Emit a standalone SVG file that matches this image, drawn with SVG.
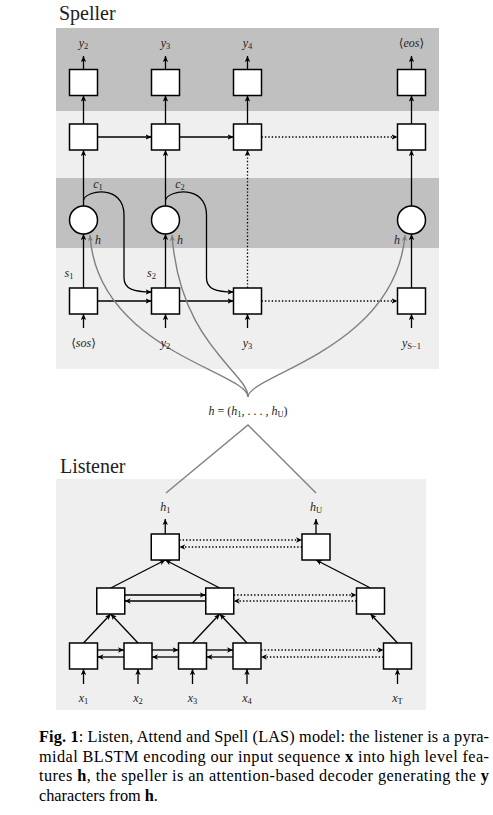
<svg xmlns="http://www.w3.org/2000/svg" width="493" height="815" viewBox="0 0 493 815">
<style>
.box{fill:#fff;stroke:#000;stroke-width:1.5}
.ln{fill:none;stroke:#000;stroke-width:1.3}
.dot{fill:none;stroke:#000;stroke-width:1.3;stroke-dasharray:1.4 2}
.gr{fill:none;stroke:#808080;stroke-width:1.4}
.m{font-family:"Liberation Serif","DejaVu Serif",serif;font-style:italic;font-size:12px;fill:#222;text-anchor:middle}
.m .s{font-size:8.5px;font-style:normal}
.m .up{font-style:normal}
.title{font-family:"Liberation Serif","DejaVu Serif",serif;font-size:20px;fill:#222}
.cap{font-family:"Liberation Serif","DejaVu Serif",serif;font-size:16.3px;fill:#000}
.b{font-weight:bold}
</style>
<defs>
<marker id="a" markerWidth="7" markerHeight="6" refX="6" refY="3" orient="auto" markerUnits="userSpaceOnUse"><path d="M0,0.3 L6,3 L0,5.7 L1.6,3z" fill="#000"/></marker>
<marker id="g" markerWidth="7" markerHeight="6" refX="6" refY="3" orient="auto" markerUnits="userSpaceOnUse"><path d="M0,0.3 L6,3 L0,5.7 L1.6,3z" fill="#808080"/></marker>
</defs>

<!-- Speller -->
<text class="title" x="59" y="20">Speller</text>
<g id="speller-bands">
<rect x="56" y="28" width="383" height="83" fill="#c0c0c0"/>
<rect x="56" y="111" width="383" height="67" fill="#efefef"/>
<rect x="56" y="178" width="383" height="70" fill="#c0c0c0"/>
<rect x="56" y="248" width="383" height="121" fill="#efefef"/>
</g>

<!-- Listener band -->
<text class="title" x="60" y="473">Listener</text>
<rect id="listener-band" x="56" y="479" width="370" height="231" fill="#efefef"/>

<g id="connectors">
<!-- speller verticals -->
<path class="ln" marker-end="url(#a)" d="M83.5,69.5V56"/>
<path class="ln" marker-end="url(#a)" d="M165.5,69.5V56"/>
<path class="ln" marker-end="url(#a)" d="M247.5,69.5V56"/>
<path class="ln" marker-end="url(#a)" d="M411.5,69.5V56"/>
<path class="ln" marker-end="url(#a)" d="M83.5,124V95.5"/>
<path class="ln" marker-end="url(#a)" d="M165.5,124V95.5"/>
<path class="ln" marker-end="url(#a)" d="M247.5,124V95.5"/>
<path class="ln" marker-end="url(#a)" d="M411.5,124V95.5"/>
<path class="ln" marker-end="url(#a)" d="M83.5,206V150"/>
<path class="ln" marker-end="url(#a)" d="M165.5,206V150"/>
<path class="ln" marker-end="url(#a)" d="M411.5,206V150"/>
<path class="dot" marker-end="url(#a)" d="M247.5,288V150"/>
<path class="ln" marker-end="url(#a)" d="M83.5,288V234"/>
<path class="ln" marker-end="url(#a)" d="M165.5,288V234"/>
<path class="ln" marker-end="url(#a)" d="M411.5,288V234"/>
<path class="ln" marker-end="url(#a)" d="M83.5,328V314"/>
<path class="ln" marker-end="url(#a)" d="M165.5,328V314"/>
<path class="ln" marker-end="url(#a)" d="M247.5,328V314"/>
<path class="ln" marker-end="url(#a)" d="M411.5,328V314"/>
<!-- speller horizontals -->
<path class="ln" marker-end="url(#a)" d="M97.5,137H151.5"/>
<path class="ln" marker-end="url(#a)" d="M179.5,137H233.5"/>
<path class="dot" marker-end="url(#a)" d="M261.5,137H397.5"/>
<path class="ln" marker-end="url(#a)" d="M97.5,301H151.5"/>
<path class="ln" marker-end="url(#a)" d="M179.5,301H233.5"/>
<path class="dot" marker-end="url(#a)" d="M261.5,301H397.5"/>
<!-- context curves -->
<path class="ln" marker-end="url(#a)" d="M83.5,200C86,190 124,184 124,215L124,278C124,289 134,292 151.5,292"/>
<path class="ln" marker-end="url(#a)" d="M165.5,200C168,190 206.5,184 206.5,215L206.5,278C206.5,289 216,292 233.5,292"/>
<!-- attention curves -->
<path class="gr" marker-end="url(#g)" d="M248,397C248,372 97,350 90,235"/>
<path class="gr" marker-end="url(#g)" d="M248,397C248,372 180,345 172,235"/>
<path class="gr" marker-end="url(#g)" d="M248,397C248,375 395,350 405,235"/>
<path class="gr" d="M166,493L248,425L316,493"/>

<!-- listener -->
<path class="ln" marker-end="url(#a)" d="M165.25,534V519"/>
<path class="ln" marker-end="url(#a)" d="M316,534V519"/>
<path class="dot" marker-end="url(#a)" d="M179.25,540H302"/>
<path class="dot" marker-end="url(#a)" d="M302,547H179.25"/>
<path class="ln" marker-end="url(#a)" d="M110.75,588L165.25,560"/>
<path class="ln" marker-end="url(#a)" d="M219.75,588L165.25,560"/>
<path class="ln" marker-end="url(#a)" d="M370.5,588L316,560"/>
<path class="ln" marker-end="url(#a)" d="M124.75,595H205.75"/>
<path class="ln" marker-end="url(#a)" d="M205.75,601H124.75"/>
<path class="dot" marker-end="url(#a)" d="M233.75,595H356.5"/>
<path class="dot" marker-end="url(#a)" d="M356.5,601H233.75"/>
<path class="ln" marker-end="url(#a)" d="M83.5,643L110.75,614"/>
<path class="ln" marker-end="url(#a)" d="M138,643L110.75,614"/>
<path class="ln" marker-end="url(#a)" d="M192.5,643L219.75,614"/>
<path class="ln" marker-end="url(#a)" d="M247,643L219.75,614"/>
<path class="ln" marker-end="url(#a)" d="M397.5,643L370.5,614"/>
<path class="ln" marker-end="url(#a)" d="M97.5,650H124"/>
<path class="ln" marker-end="url(#a)" d="M124,657H97.5"/>
<path class="ln" marker-end="url(#a)" d="M152,650H178.5"/>
<path class="ln" marker-end="url(#a)" d="M178.5,657H152"/>
<path class="ln" marker-end="url(#a)" d="M206.5,650H233"/>
<path class="ln" marker-end="url(#a)" d="M233,657H206.5"/>
<path class="dot" marker-end="url(#a)" d="M261,650H383.5"/>
<path class="dot" marker-end="url(#a)" d="M383.5,657H261"/>
<path class="ln" marker-end="url(#a)" d="M83.5,684V669"/>
<path class="ln" marker-end="url(#a)" d="M138,684V669"/>
<path class="ln" marker-end="url(#a)" d="M192.5,684V669"/>
<path class="ln" marker-end="url(#a)" d="M247,684V669"/>
<path class="ln" marker-end="url(#a)" d="M397.5,684V669"/>
</g>

<!-- speller nodes -->
<g id="sp-out1"><rect class="box" x="69.5" y="69.5" width="28" height="26"/></g>
<g id="sp-out2"><rect class="box" x="151.5" y="69.5" width="28" height="26"/></g>
<g id="sp-out3"><rect class="box" x="233.5" y="69.5" width="28" height="26"/></g>
<g id="sp-out4"><rect class="box" x="397.5" y="69.5" width="28" height="26"/></g>
<g id="sp-mid1"><rect class="box" x="69.5" y="124" width="28" height="26"/></g>
<g id="sp-mid2"><rect class="box" x="151.5" y="124" width="28" height="26"/></g>
<g id="sp-mid3"><rect class="box" x="233.5" y="124" width="28" height="26"/></g>
<g id="sp-mid4"><rect class="box" x="397.5" y="124" width="28" height="26"/></g>
<g id="att1"><circle class="box" cx="83.5" cy="220" r="14"/></g>
<g id="att2"><circle class="box" cx="165.5" cy="220" r="14"/></g>
<g id="att4"><circle class="box" cx="411.5" cy="220" r="14"/></g>
<g id="sp-in1"><rect class="box" x="69.5" y="288" width="28" height="26"/></g>
<g id="sp-in2"><rect class="box" x="151.5" y="288" width="28" height="26"/></g>
<g id="sp-in3"><rect class="box" x="233.5" y="288" width="28" height="26"/></g>
<g id="sp-in4"><rect class="box" x="397.5" y="288" width="28" height="26"/></g>

<!-- speller labels -->
<g id="sp-labels">
<text class="m" x="83.5" y="47">y<tspan class="s" dy="2">2</tspan></text>
<text class="m" x="165.5" y="47">y<tspan class="s" dy="2">3</tspan></text>
<text class="m" x="247.5" y="47">y<tspan class="s" dy="2">4</tspan></text>
<text class="m" x="411.5" y="47"><tspan class="up">⟨</tspan>eos<tspan class="up">⟩</tspan></text>
<text class="m" x="98" y="188">c<tspan class="s" dy="2">1</tspan></text>
<text class="m" x="180" y="188">c<tspan class="s" dy="2">2</tspan></text>
<text class="m" x="98" y="244">h</text>
<text class="m" x="180" y="244">h</text>
<text class="m" x="397" y="244">h</text>
<text class="m" x="69" y="277">s<tspan class="s" dy="2">1</tspan></text>
<text class="m" x="151.5" y="277">s<tspan class="s" dy="2">2</tspan></text>
<text class="m" x="83.5" y="347"><tspan class="up">⟨</tspan>sos<tspan class="up">⟩</tspan></text>
<text class="m" x="165.5" y="347">y<tspan class="s" dy="2">2</tspan></text>
<text class="m" x="247.5" y="347">y<tspan class="s" dy="2">3</tspan></text>
<text class="m" x="411.5" y="347">y<tspan class="s" dy="2">S−1</tspan></text>
<text class="m" x="248" y="415">h <tspan class="up">= (</tspan>h<tspan class="s" dy="2">1</tspan><tspan dy="-2" class="up">, . . . , </tspan>h<tspan class="s" dy="2">U</tspan><tspan dy="-2" class="up">)</tspan></text>
</g>

<!-- listener nodes -->
<g id="ls-top1"><rect class="box" x="151.25" y="534" width="28" height="26"/></g>
<g id="ls-top2"><rect class="box" x="302" y="534" width="28" height="26"/></g>
<g id="ls-mid1"><rect class="box" x="96.75" y="588" width="28" height="26"/></g>
<g id="ls-mid2"><rect class="box" x="205.75" y="588" width="28" height="26"/></g>
<g id="ls-mid3"><rect class="box" x="356.5" y="588" width="28" height="26"/></g>
<g id="ls-bot1"><rect class="box" x="69.5" y="643" width="28" height="26"/></g>
<g id="ls-bot2"><rect class="box" x="124" y="643" width="28" height="26"/></g>
<g id="ls-bot3"><rect class="box" x="178.5" y="643" width="28" height="26"/></g>
<g id="ls-bot4"><rect class="box" x="233" y="643" width="28" height="26"/></g>
<g id="ls-bot5"><rect class="box" x="383.5" y="643" width="28" height="26"/></g>

<g id="ls-labels">
<text class="m" x="165.25" y="511">h<tspan class="s" dy="2">1</tspan></text>
<text class="m" x="316" y="511">h<tspan class="s" dy="2">U</tspan></text>
<text class="m" x="83.5" y="702">x<tspan class="s" dy="2">1</tspan></text>
<text class="m" x="138" y="702">x<tspan class="s" dy="2">2</tspan></text>
<text class="m" x="192.5" y="702">x<tspan class="s" dy="2">3</tspan></text>
<text class="m" x="247" y="702">x<tspan class="s" dy="2">4</tspan></text>
<text class="m" x="397.5" y="702">x<tspan class="s" dy="2">T</tspan></text>
</g>

<!-- caption -->
<g id="caption">
<text class="cap" x="39" y="742" textLength="450" lengthAdjust="spacing"><tspan class="b">Fig. 1</tspan>: Listen, Attend and Spell (LAS) model: the listener is a pyra-</text>
<text class="cap" x="39" y="761.5" textLength="450" lengthAdjust="spacing">midal BLSTM encoding our input sequence <tspan class="b">x</tspan> into high level fea-</text>
<text class="cap" x="39" y="781" textLength="450" lengthAdjust="spacing">tures <tspan class="b">h</tspan>, the speller is an attention-based decoder generating the <tspan class="b">y</tspan></text>
<text class="cap" x="39" y="800.5">characters from <tspan class="b">h</tspan>.</text>
</g>
</svg>
